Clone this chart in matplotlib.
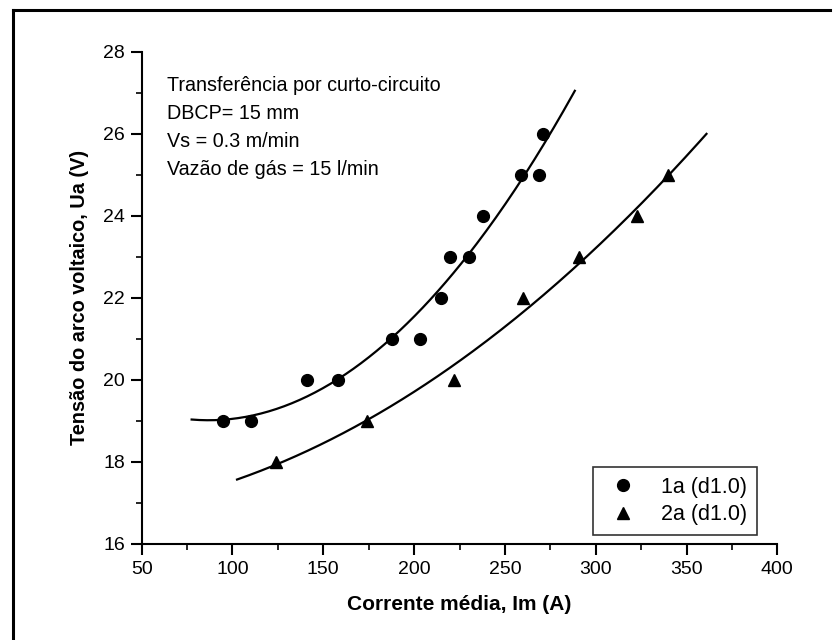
import numpy as np
import matplotlib
matplotlib.use("Agg")
import matplotlib.pyplot as plt
from matplotlib.lines import Line2D
from matplotlib.ticker import MultipleLocator

plt.rcParams["font.family"] = ["Liberation Sans", "DejaVu Sans"]

# series 1a (d1.0) - circles
i_1a = [95, 110, 141, 158, 188, 203, 215, 220, 230, 238, 259, 269, 271]
u_1a = [19, 19, 20, 20, 21, 21, 22, 23, 23, 24, 25, 25, 26]

# series 2a (d1.0) - triangles
i_2a = [124, 174, 222, 260, 291, 323, 340]
u_2a = [18, 19, 20, 22, 23, 24, 25]

# range of the fitted curves
fit_range_1a = (77.5, 288.5)
fit_range_2a = (102.5, 361)

info_lines = [
    "Transferência por curto-circuito",
    "DBCP= 15 mm",
    "Vs = 0.3 m/min",
    "Vazão de gás = 15 l/min",
]

fig = plt.figure(figsize=(8.35, 6.4), dpi=100)
ax = fig.add_axes([0.1697, 0.15, 0.7612, 0.7692])

ax.plot(i_1a, u_1a, "o", color="black", markersize=8.5, label="1a (d1.0)")
ax.plot(i_2a, u_2a, "^", color="black", markersize=9, label="2a (d1.0)")

# second order polynomial fit, like the original
for xs, ys, rng in [(i_1a, u_1a, fit_range_1a), (i_2a, u_2a, fit_range_2a)]:
    coef = np.polyfit(xs, ys, 2)
    xx = np.linspace(rng[0], rng[1], 200)
    ax.plot(xx, np.polyval(coef, xx), color="black", lw=1.6)

ax.set_xlim(50, 400)
ax.set_ylim(16, 28)
ax.xaxis.set_major_locator(MultipleLocator(50))
ax.xaxis.set_minor_locator(MultipleLocator(25))
ax.yaxis.set_major_locator(MultipleLocator(2))
ax.yaxis.set_minor_locator(MultipleLocator(1))

ax.spines["top"].set_visible(False)
ax.spines["right"].set_visible(False)
for s in ["left", "bottom"]:
    ax.spines[s].set_linewidth(1.5)
ax.tick_params(which="major", direction="out", length=8, width=1.5,
               labelsize=14)
ax.tick_params(axis="x", which="major", pad=4.5)
ax.tick_params(axis="y", which="major", pad=4)
ax.tick_params(which="minor", direction="out", length=4.5, width=1.2)

ax.set_xlabel("Corrente média, Im (A)", fontsize=15, fontweight="bold")
ax.set_ylabel("Tensão do arco voltaico, Ua (V)", fontsize=14.3,
              fontweight="bold")
ax.xaxis.set_label_coords(0.5, -0.103)
ax.yaxis.set_label_coords(-0.083, 0.5)

ax.text(0.04, 0.95, "\n".join(info_lines), transform=ax.transAxes,
        fontsize=14.2, va="top", ha="left", linespacing=1.6)

leg = ax.legend(loc="lower right", bbox_to_anchor=(0.968, 0.018),
                borderaxespad=0, fontsize=15.5, frameon=True, fancybox=False,
                handletextpad=0.8, borderpad=0.45, labelspacing=0.3,
                handlelength=1.9)
leg.get_frame().set_edgecolor("black")
leg.get_frame().set_linewidth(1.2)

# outer frame: only left and top edges are visible in the scan
fig.add_artist(Line2D([0.0156, 0.0156], [0.0, 0.984], transform=fig.transFigure,
                      color="black", lw=2.2))
fig.add_artist(Line2D([0.0156, 0.994], [0.984, 0.984], transform=fig.transFigure,
                      color="black", lw=2.2))

fig.savefig("out.png", dpi=100)
